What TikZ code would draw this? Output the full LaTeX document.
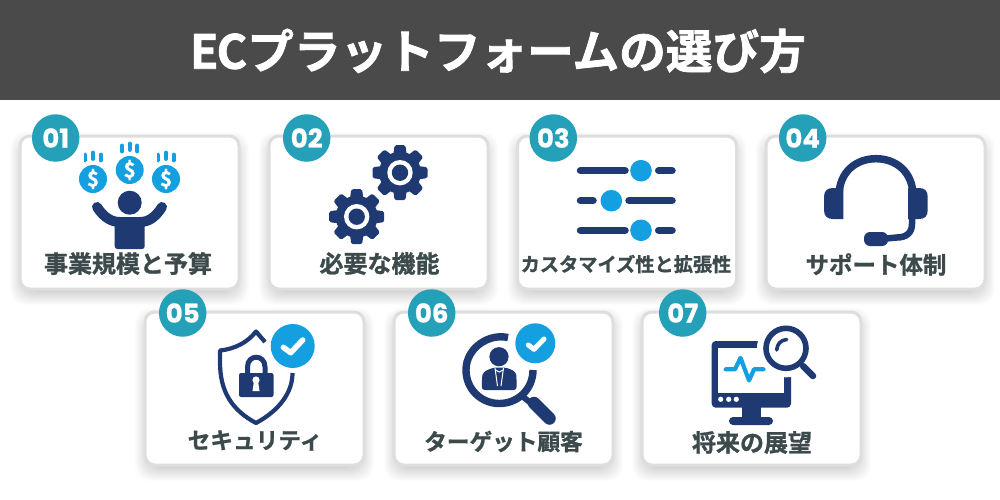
\documentclass[tikz,border=0pt]{standalone}
\usepackage{fontspec}
\setmainfont[FakeBold=1.1]{Noto Sans CJK JP Bold}
\newfontfamily\titlefont[FakeBold=1.6]{Noto Sans CJK JP Bold}
\newfontfamily\numfont[FakeBold=0.8]{Poppins Bold}
\definecolor{navy}{HTML}{1F3A72}
\definecolor{sky}{HTML}{14A0E0}
\definecolor{tealb}{HTML}{24A0B8}
\definecolor{band}{HTML}{4A4A4A}
\definecolor{lab}{HTML}{3C4A4C}
\definecolor{edge}{HTML}{DEDEDE}
\def\px{0.75pt}
\newcommand\fs[1]{\fontsize{#1}{#1}\selectfont}
\newcommand\card[4]{%
  \foreach \k in {0,1,...,13}{
    \fill[black,opacity=0.011,rounded corners=16*\px]
      (#1+3-\k,#2+9-\k) rectangle (#3-3+\k,#4+3+\k);
  }
  \draw[edge,fill=white,line width=3*\px,rounded corners=10*\px] (#1,#2) rectangle (#3,#4);
}
\newcommand\mygear[2]{%
  \begin{scope}[shift={(#1,#2)}]
    \foreach \a in {0,45,...,315}{
      \fill[navy,rounded corners=1.2pt,rotate=\a] (-7,-16)--(-5.4,-27.5)--(5.4,-27.5)--(7,-16)--cycle;
    }
    \fill[navy] (0,0) circle (21);
    \fill[white] (0,0) circle (12.7);
    \fill[navy] (0,0) circle (8.2);
  \end{scope}
}
\newcommand\coin[2]{%
  \fill[sky] (#1,#2) circle (14);
  \node[text=white,inner sep=0pt] at (#1,#2) {\fs{15.5}\$};
  \draw[sky,line width=3.8*\px,line cap=round] (#1-7.6,#2-24.5) -- (#1-7.6,#2-18.5);
  \draw[sky,line width=3.8*\px,line cap=round] (#1,#2-26.5) -- (#1,#2-20);
  \draw[sky,line width=3.8*\px,line cap=round] (#1+7.6,#2-24.5) -- (#1+7.6,#2-18.5);
}
\tikzset{
  badge/.style={circle,fill=tealb,text=white,minimum size=47.5*\px,inner sep=0pt,font=\numfont\fs{19.5}},
  cardlabel/.style={text=lab,inner sep=0pt},
  checkm/.style={white,line width=5.5*\px,line cap=round,line join=round},
}
\begin{document}
\begin{tikzpicture}[x=0.75pt,y=-0.75pt]
\useasboundingbox (0,0) rectangle (1000,500);
\fill[white] (0,0) rectangle (1000,500);
\fill[band] (0,0) rectangle (1000,100);
\node[text=white,inner sep=0pt] (title) at (498.5,51) {\titlefont\fs{35}\addfontfeature{}\kern-1pt E\kern-1.5pt Cプラットフォームの選び方};
% cards
\card{20}{136}{239}{289}
\card{269}{136}{488}{289}
\card{517.5}{136}{736.5}{289}
\card{766}{136}{985}{289}
\card{145}{312}{364}{465}
\card{394}{312}{613}{465}
\card{642}{312}{861}{465}
% badges
\node[badge] (b1) at (55.7,138) {01};
\node[badge] (b2) at (306.7,138) {02};
\node[badge] (b3) at (553.3,138) {03};
\node[badge] (b4) at (802.7,138) {04};
\node[badge] (b5) at (182.7,313) {05};
\node[badge] (b6) at (431.7,313) {06};
\node[badge] (b7) at (682.7,313) {07};
% labels
\node[cardlabel] (l1) at (128,263.5) {\fs{18}事業規模と予算};
\node[cardlabel] (l2) at (379.5,263.5) {\fs{18}必要な機能};
\node[cardlabel] (l3) at (626,264) {\fs{14.4}カスタマイズ性と拡張性};
\node[cardlabel] (l4) at (876,264.5) {\fs{17.6}サポート体制};
\node[cardlabel] (l5) at (255,440.5) {\fs{17}セキュリティ};
\node[cardlabel] (l6) at (503.5,441.5) {\fs{17}ターゲット顧客};
\node[cardlabel] (l7) at (752,442.5) {\fs{18}将来の展望};
% icon 1
\coin{93}{179}
\coin{129.7}{170}
\coin{166}{179}
\fill[navy] (129.7,202.7) circle (12);
\draw[navy,line width=10*\px,line cap=round] (97,207) .. controls (104,218) and (112,222) .. (120,222) -- (140,222) .. controls (148,222) and (155,218) .. (162,207);
\fill[navy,rounded corners=2pt] (114.7,220) rectangle (144.7,249);
% icon 2
\mygear{400}{172.7}
\mygear{356.7}{216.7}
% icon 3
\foreach \y/\ka/\kb/\kc in {170.7/625/641/656.7,230.3/625/641/656.7}{
  \draw[navy,line width=7.5*\px,line cap=round] (580.5,\y) -- (\ka,\y);
  \fill[sky] (\kb,\y) circle (10.8);
  \draw[navy,line width=7.5*\px,line cap=round] (\kc+2,\y) -- (672,\y);
}
\draw[navy,line width=7.5*\px,line cap=round] (580.5,200.7) -- (593,200.7);
\fill[sky] (611.3,200.7) circle (10.8);
\draw[navy,line width=7.5*\px,line cap=round] (629,200.7) -- (672,200.7);
% icon 4
\draw[navy,line width=7.5*\px] (839,205) -- (839,196) .. controls (839,172) and (856,158.7) .. (876,158.7) .. controls (896,158.7) and (913,172) .. (913,196) -- (913,205);
\fill[navy] (843.3,219) -- (833,219) .. controls (827,219) and (824,216) .. (824,210) -- (824,197) .. controls (824,191) and (827,188) .. (833,188) -- (843.3,188) -- cycle;
\fill[navy] (908,219) -- (919,219) .. controls (925,219) and (927.7,216) .. (927.7,210) -- (927.7,197) .. controls (927.7,191) and (925,188) .. (919,188) -- (908,188) -- cycle;
\draw[navy,line width=6.5*\px] (912,218) -- (912,224) .. controls (912,233) and (906,237.5) .. (897,237.5) -- (886,238.5);
\fill[navy,rounded corners=4.5pt] (864,232) rectangle (888,246);
% icon 5
\draw[navy,line width=4.2*\px,line join=round] (265,342) -- (256,331.5) .. controls (248,342) and (235,349) .. (220,350.5) -- (220,362) .. controls (220,392) and (232,410) .. (256,423) .. controls (280,410) and (292.5,392) .. (292.5,373);
\draw[navy,line width=5*\px] (247.5,374) -- (247.5,367) .. controls (247.5,354) and (265,354) .. (265,367) -- (265,374);
\fill[navy,rounded corners=1.5pt] (239,373) rectangle (273.5,397);
\fill[white] (256,380) circle (3.6);
\fill[white] (254,381) -- (258,381) -- (259.5,391) -- (252.5,391) -- cycle;
\fill[sky] (292.7,346) circle (22);
\draw[checkm] (283.3,347.3) -- (290.7,352.7) -- (302.7,340);
% icon 6
\draw[navy,line width=7.4*\px] (508,337.6) .. controls (489,333) and (466,348) .. (466,370) .. controls (466,389) and (481,403.5) .. (499.3,403.5) .. controls (518,403.5) and (533,389) .. (533,370);
\draw[navy,line width=6*\px] (522,396) -- (532,404);
\draw[navy,line width=12.5*\px,line cap=round] (534,403) -- (549.5,418.5);
\fill[sky] (535.3,343.3) circle (20);
\draw[checkm,line width=5*\px] (528.3,345) -- (534,349.3) -- (544,339);
\fill[navy] (499,356.7) circle (9.6);
\fill[navy,rounded corners=2.2pt] (481.7,390) -- (482,378) .. controls (483,371) and (490,369) .. (494,367.5) -- (505,367.5) .. controls (510,369) and (516,371) .. (516.5,378) -- (516.7,390) -- cycle;
\draw[white,line width=1*\px] (495,368) -- (497.5,386);
\draw[white,line width=1*\px] (503.5,368) -- (501,386);
\draw[white,line width=1*\px] (495.5,370) -- (499.2,372) -- (503,370);
% icon 7
\fill[navy,rounded corners=3pt] (711.7,341) rectangle (791,407.7);
\fill[white] (718.3,348.3) rectangle (784.2,393.3);
\fill[white] (786,348.3) circle (29);
\fill[navy,rounded corners=0pt] (741.7,405) rectangle (760.7,419);
\fill[navy,rounded corners=3pt] (729,417) rectangle (773,425);
\foreach \x in {720.7,728.7,736.3}{\fill[white] (\x,399.3) circle (2.6);}
\draw[sky,line width=4.2*\px,line cap=round,line join=round] (725.7,369.3) -- (735,369.3) -- (740.5,357.8) -- (749,380.5) -- (754,369.3) -- (763.5,369.3);
\draw[navy,line width=5.6*\px] (786,348.3) circle (20);
\draw[navy,line width=6.5*\px,line cap=round] (803,366) -- (813,376);
\draw[navy,line width=3.6*\px,line cap=round] (776.7,350) .. controls (777,344) and (781,340) .. (786.7,339.5);
\end{tikzpicture}
\end{document}
